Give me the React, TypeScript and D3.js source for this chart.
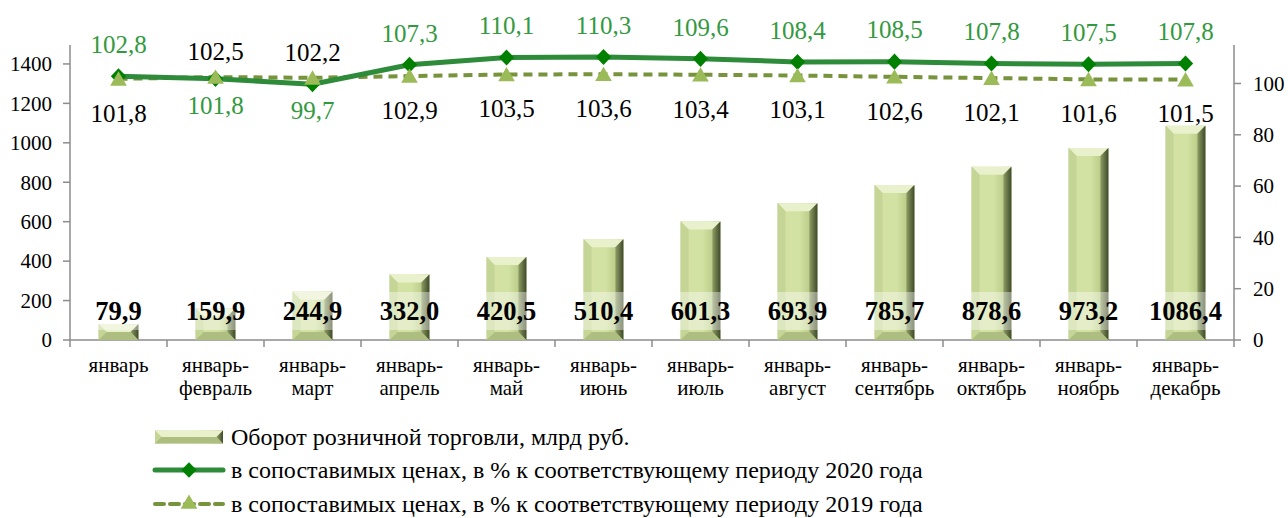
import React, { useEffect, useRef } from 'react';
import * as d3 from 'd3';

// categories (two-line labels)
const months = [
  ['январь', ''],
  ['январь-', 'февраль'],
  ['январь-', 'март'],
  ['январь-', 'апрель'],
  ['январь-', 'май'],
  ['январь-', 'июнь'],
  ['январь-', 'июль'],
  ['январь-', 'август'],
  ['январь-', 'сентябрь'],
  ['январь-', 'октябрь'],
  ['январь-', 'ноябрь'],
  ['январь-', 'декабрь'],
];

// retail turnover, bln rub
const turnover = [79.9, 159.9, 244.9, 332.0, 420.5, 510.4, 601.3, 693.9, 785.7, 878.6, 973.2, 1086.4];
// % to same period of 2020
const vs2020 = [102.8, 101.8, 99.7, 107.3, 110.1, 110.3, 109.6, 108.4, 108.5, 107.8, 107.5, 107.8];
// % to same period of 2019
const vs2019 = [101.8, 102.5, 102.2, 102.9, 103.5, 103.6, 103.4, 103.1, 102.6, 102.1, 101.6, 101.5];

const leftTicks = [0, 200, 400, 600, 800, 1000, 1200, 1400];
const rightTicks = [0, 20, 40, 60, 80, 100];

const legendItems = [
  'Оборот розничной торговли, млрд руб.',
  'в сопоставимых ценах, в % к соответствующему периоду 2020 года',
  'в сопоставимых ценах, в % к соответствующему периоду 2019 года',
];

const W = 1288;
const H = 518;
const FONT = 'Liberation Serif';
const fmt = (v: number) => v.toFixed(1).replace('.', ',');

const App = () => {
  const svgRef = useRef<SVGSVGElement>(null);

  useEffect(() => {
    const svg = d3.select(svgRef.current);
    svg.selectAll('*').remove();
    svg.attr('font-family', FONT);

    const left = 70, right = 1234, top = 45, bottom = 340;

    const x = d3.scaleBand<number>()
      .domain(d3.range(months.length))
      .range([left, right])
      .paddingInner(0.59)
      .paddingOuter(0.295);
    const yL = d3.scaleLinear().domain([0, 1496]).range([bottom, top]);
    const yR = d3.scaleLinear().domain([0, 115]).range([bottom, top]);
    const band = (right - left) / months.length;
    const cx = (i: number) => (x(i) as number) + x.bandwidth() / 2;

    // gradients for the bevelled bars
    const defs = svg.append('defs');
    const g1 = defs.append('linearGradient').attr('id', 'barGrad').attr('x1', 0).attr('x2', 1).attr('y1', 0).attr('y2', 0);
    [
      [0, '#b4c487'], [0.15, '#d3e2a4'], [0.55, '#d2e2a2'], [0.8, '#bccd8a'], [1, '#8a9a60'],
    ].forEach(([o, c]) => g1.append('stop').attr('offset', o as number).attr('stop-color', c as string));
    const g2 = defs.append('linearGradient').attr('id', 'rightGrad').attr('x1', 0).attr('x2', 1).attr('y1', 0).attr('y2', 0);
    [[0, '#8f9d66'], [1, '#3f4a28']].forEach(([o, c]) =>
      g2.append('stop').attr('offset', o as number).attr('stop-color', c as string));

    const axisColor = '#8c8c8c';

    // left axis
    svg.append('line').attr('x1', left).attr('x2', left).attr('y1', top).attr('y2', bottom)
      .attr('stroke', axisColor).attr('stroke-width', 1.5);
    leftTicks.forEach((t) => {
      svg.append('line').attr('x1', left - 7).attr('x2', left).attr('y1', yL(t)).attr('y2', yL(t))
        .attr('stroke', axisColor).attr('stroke-width', 1.5);
      svg.append('text').attr('x', 52).attr('y', yL(t)).attr('dy', '0.35em')
        .attr('text-anchor', 'end').attr('font-size', 21).attr('fill', '#000').text(t);
    });

    // right axis
    svg.append('line').attr('x1', right).attr('x2', right).attr('y1', top).attr('y2', bottom)
      .attr('stroke', axisColor).attr('stroke-width', 1.5);
    rightTicks.forEach((t) => {
      svg.append('line').attr('x1', right).attr('x2', right + 7).attr('y1', yR(t)).attr('y2', yR(t))
        .attr('stroke', axisColor).attr('stroke-width', 1.5);
      svg.append('text').attr('x', 1253).attr('y', yR(t)).attr('dy', '0.35em')
        .attr('text-anchor', 'start').attr('font-size', 21).attr('fill', '#000').text(t);
    });

    // x axis
    svg.append('line').attr('x1', left).attr('x2', right).attr('y1', bottom).attr('y2', bottom)
      .attr('stroke', axisColor).attr('stroke-width', 1.5);
    d3.range(months.length + 1).forEach((i) => {
      const xx = left + i * band;
      svg.append('line').attr('x1', xx).attr('x2', xx).attr('y1', bottom).attr('y2', bottom + 7)
        .attr('stroke', axisColor).attr('stroke-width', 1.5);
    });
    months.forEach((m, i) => {
      const t = svg.append('text').attr('x', cx(i)).attr('text-anchor', 'middle')
        .attr('font-size', 21).attr('fill', '#000');
      t.append('tspan').attr('x', cx(i)).attr('y', 372).text(m[0]);
      if (m[1]) t.append('tspan').attr('x', cx(i)).attr('y', 395).text(m[1]);
    });

    // bevelled bar helper
    const drawBar = (gg: d3.Selection<SVGGElement, unknown, null, undefined>, bx: number, by: number, bw: number, bh: number) => {
      const b = Math.min(8, bh / 2);
      gg.append('rect').attr('x', bx).attr('y', by).attr('width', bw).attr('height', bh).attr('fill', 'url(#barGrad)');
      gg.append('polygon')
        .attr('points', `${bx},${by} ${bx + bw},${by} ${bx + bw - b},${by + b} ${bx + b},${by + b}`)
        .attr('fill', '#e9f1cc');
      gg.append('polygon')
        .attr('points', `${bx},${by} ${bx + b},${by + b} ${bx + b},${by + bh - b} ${bx},${by + bh}`)
        .attr('fill', '#c5d595');
      gg.append('polygon')
        .attr('points', `${bx + bw},${by} ${bx + bw},${by + bh} ${bx + bw - b},${by + bh - b} ${bx + bw - b},${by + b}`)
        .attr('fill', 'url(#rightGrad)');
      gg.append('polygon')
        .attr('points', `${bx},${by + bh} ${bx + b},${by + bh - b} ${bx + bw - b},${by + bh - b} ${bx + bw},${by + bh}`)
        .attr('fill', '#aebd80');
    };

    const bars = svg.append('g');
    turnover.forEach((v, i) => {
      const gg = bars.append('g');
      drawBar(gg, x(i) as number, yL(v), x.bandwidth(), yL(0) - yL(v));
    });

    // bar value labels with translucent background
    const barLabels = svg.append('g');
    turnover.forEach((v, i) => {
      const t = barLabels.append('text').attr('x', cx(i)).attr('y', 320).attr('text-anchor', 'middle')
        .attr('font-size', 26.5).attr('font-weight', 'bold').attr('fill', '#000').text(fmt(v));
      const bb = (t.node() as SVGTextElement).getBBox();
      barLabels.insert('rect', 'text').attr('x', bb.x - 2).attr('y', 292).attr('width', bb.width + 4).attr('height', 38)
        .attr('fill', '#fff').attr('fill-opacity', 0.4);
    });
    barLabels.selectAll('text').raise();

    // lines
    const c2020 = '#2e8b3a';
    const c2019 = '#77933c';
    const lineGen = d3.line<number>().x((_, i) => cx(i)).y((d) => yR(d));
    svg.append('path').attr('d', lineGen(vs2019)).attr('fill', 'none').attr('stroke', c2019)
      .attr('stroke-width', 4).attr('stroke-dasharray', '9,6');
    svg.append('path').attr('d', lineGen(vs2020)).attr('fill', 'none').attr('stroke', c2020)
      .attr('stroke-width', 5).attr('stroke-linejoin', 'round');

    const diamond = d3.symbol().type(d3.symbolDiamond2).size(150);
    const triangle = d3.symbol().type(d3.symbolTriangle).size(120);
    vs2020.forEach((v, i) => {
      svg.append('path').attr('d', diamond()).attr('transform', `translate(${cx(i)},${yR(v)}) scale(1,1.05)`)
        .attr('fill', '#008000');
    });
    vs2019.forEach((v, i) => {
      svg.append('path').attr('d', triangle()).attr('transform', `translate(${cx(i)},${yR(v) + 2})`)
        .attr('fill', '#9bbb59');
    });

    // line labels: higher series above, lower series below
    const green = '#33993f';
    vs2020.forEach((v, i) => {
      const w = vs2019[i];
      const above2020 = v >= w;
      const y20 = above2020 ? yR(v) - 32 : yR(v) + 26;
      const y19 = above2020 ? yR(w) + 34 : yR(w) - 26;
      svg.append('text').attr('x', cx(i)).attr('y', y20).attr('dy', '0.35em').attr('text-anchor', 'middle')
        .attr('font-size', 25).attr('fill', green).text(fmt(v));
      svg.append('text').attr('x', cx(i)).attr('y', y19).attr('dy', '0.35em').attr('text-anchor', 'middle')
        .attr('font-size', 25).attr('fill', '#000').text(fmt(w));
    });

    // legend
    const lg = svg.append('g');
    const lx = 155, lw = 68;
    const rows = [437, 470, 504];
    drawBar(lg.append('g'), lx, rows[0] - 6.5, lw, 13);
    lg.append('line').attr('x1', lx).attr('x2', lx + lw).attr('y1', rows[1]).attr('y2', rows[1])
      .attr('stroke', c2020).attr('stroke-width', 5).attr('stroke-linecap', 'round');
    lg.append('path').attr('d', diamond()).attr('transform', `translate(${lx + lw / 2},${rows[1]})`).attr('fill', '#008000');
    lg.append('line').attr('x1', lx).attr('x2', lx + lw).attr('y1', rows[2]).attr('y2', rows[2])
      .attr('stroke', c2019).attr('stroke-width', 4).attr('stroke-dasharray', '9,6').attr('stroke-linecap', 'round');
    lg.append('path').attr('d', triangle()).attr('transform', `translate(${lx + lw / 2},${rows[2]})`).attr('fill', '#9bbb59');
    legendItems.forEach((s, i) => {
      lg.append('text').attr('x', 231).attr('y', rows[i]).attr('dy', '0.35em')
        .attr('font-size', 24).attr('fill', '#000').text(s);
    });
  }, []);

  return (
    <svg ref={svgRef} width={W} height={H} style={{ position: 'absolute', left: 0, top: 0, background: '#fff' }} />
  );
};

export default App;
